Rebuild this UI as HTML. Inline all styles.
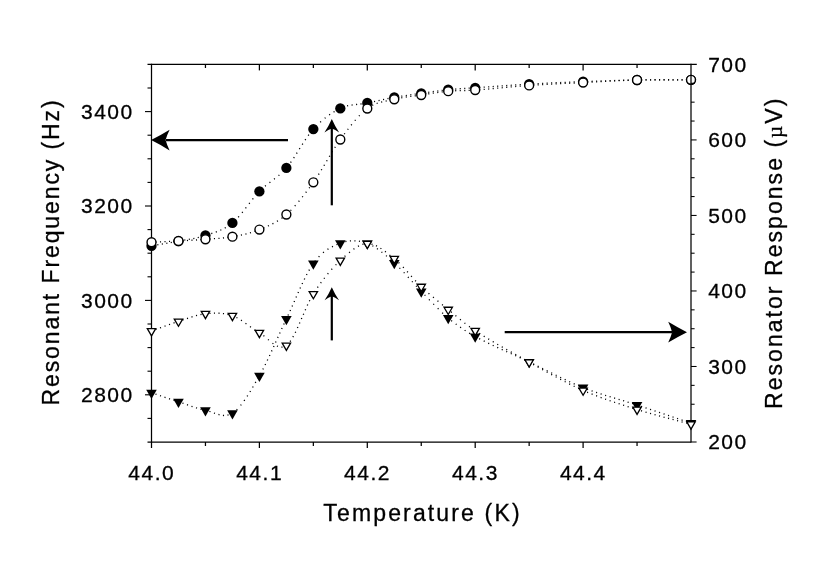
<!DOCTYPE html>
<html><head><meta charset="utf-8"><title>Resonant Frequency vs Temperature</title>
<style>html,body{margin:0;padding:0;background:#fff}body{width:830px;height:579px;position:relative;overflow:hidden;font-family:"Liberation Sans",sans-serif}</style>
</head><body>
<svg width="830" height="579" viewBox="0 0 830 579" style="position:absolute;left:0;top:0;filter:grayscale(1)">
<rect width="830" height="579" fill="#fff"/>
<g stroke="#000" stroke-width="1.25" fill="none">
<path d="M151.50 63.80 V448.00"/>
<path d="M147.50 442.00 H691.00"/>
<path d="M147.50 64.40 H696.80"/>
<path stroke-width="1.1" d="M147.50 418.40 H151.50"/>
<path stroke-width="1.1" d="M145.00 394.80 H151.50"/>
<path stroke-width="1.1" d="M147.50 371.20 H151.50"/>
<path stroke-width="1.1" d="M147.50 347.60 H151.50"/>
<path stroke-width="1.1" d="M147.50 324.00 H151.50"/>
<path stroke-width="1.1" d="M145.00 300.40 H151.50"/>
<path stroke-width="1.1" d="M147.50 276.80 H151.50"/>
<path stroke-width="1.1" d="M147.50 253.20 H151.50"/>
<path stroke-width="1.1" d="M147.50 229.60 H151.50"/>
<path stroke-width="1.1" d="M145.00 206.00 H151.50"/>
<path stroke-width="1.1" d="M147.50 182.40 H151.50"/>
<path stroke-width="1.1" d="M147.50 158.80 H151.50"/>
<path stroke-width="1.1" d="M147.50 135.20 H151.50"/>
<path stroke-width="1.1" d="M145.00 111.60 H151.50"/>
<path stroke-width="1.1" d="M147.50 88.00 H151.50"/>
<path d="M205.45 442.00 V446.00"/>
<path d="M205.45 64.40 V68.00"/>
<path d="M259.40 442.00 V448.00"/>
<path d="M259.40 64.40 V70.40"/>
<path d="M313.35 442.00 V446.00"/>
<path d="M313.35 64.40 V68.00"/>
<path d="M367.30 442.00 V448.00"/>
<path d="M367.30 64.40 V70.40"/>
<path d="M421.25 442.00 V446.00"/>
<path d="M421.25 64.40 V68.00"/>
<path d="M475.20 442.00 V448.00"/>
<path d="M475.20 64.40 V70.40"/>
<path d="M529.15 442.00 V446.00"/>
<path d="M529.15 64.40 V68.00"/>
<path d="M583.10 442.00 V448.00"/>
<path d="M583.10 64.40 V70.40"/>
<path d="M637.05 442.00 V446.00"/>
<path d="M637.05 64.40 V68.00"/>
</g>
<path d="M152.80 245.68 L153.88 245.49 M157.30 244.91 L158.39 244.72 M161.81 244.15 L162.90 243.97 M166.32 243.39 L167.41 243.20 M170.75 242.62 L171.83 242.43 M175.26 241.81 L176.34 241.61 M179.77 240.95 L180.85 240.76 M184.28 240.16 L185.36 239.98 M188.79 239.41 L189.87 239.22 M193.30 238.59 L194.38 238.38 M197.73 237.66 L198.80 237.41 M202.25 236.50 L203.31 236.19 M206.76 235.06 L207.81 234.71 M211.28 233.58 L212.32 233.24 M215.79 232.03 L216.82 231.65 M220.31 230.23 L221.32 229.78 M224.76 228.06 L225.72 227.52 M229.30 225.26 L230.20 224.62 M233.86 221.67 L234.67 220.92 M238.24 217.22 L238.97 216.40 M242.02 212.77 L242.71 211.91 M245.53 208.32 L246.21 207.45 M249.04 203.77 L249.71 202.90 M252.54 199.30 L253.23 198.44 M256.28 194.79 L257.01 193.96 M260.51 190.29 L261.30 189.53 M264.99 186.27 L265.84 185.57 M269.49 182.70 L270.36 182.03 M274.00 179.26 L274.87 178.58 M278.53 175.62 L279.36 174.90 M282.98 171.54 L283.76 170.76 M287.11 167.03 L287.81 166.18 M290.57 162.54 L291.20 161.64 M293.67 158.02 L294.28 157.11 M296.52 153.63 L297.11 152.70 M299.36 149.12 L299.95 148.19 M302.20 144.62 L302.79 143.69 M305.11 140.11 L305.72 139.19 M308.18 135.62 L308.83 134.73 M311.66 131.06 L312.37 130.21 M315.72 126.56 L316.49 125.77 M320.21 122.19 L321.02 121.45 M324.69 118.33 L325.56 117.65 M329.18 114.95 L330.09 114.33 M333.59 112.07 L334.53 111.50 M338.08 109.53 L339.06 109.02 M342.57 107.41 L343.60 107.03 M347.06 105.98 L348.13 105.72 M351.56 105.07 L352.64 104.91 M356.06 104.49 L357.16 104.37 M360.49 104.01 L361.58 103.89 M365.00 103.42 L366.09 103.23 M369.52 102.54 L370.59 102.32 M374.03 101.58 L375.10 101.35 M378.54 100.61 L379.61 100.37 M383.05 99.63 L384.12 99.41 M387.47 98.71 L388.55 98.49 M391.98 97.82 L393.06 97.62 M396.74 96.97 L397.82 96.78 M401.25 96.22 L402.33 96.05 M405.76 95.52 L406.84 95.36 M410.27 94.86 L411.36 94.70 M414.69 94.23 L415.78 94.07 M419.20 93.59 L420.29 93.44 M423.71 92.95 L424.80 92.79 M428.22 92.29 L429.31 92.13 M432.73 91.64 L433.82 91.49 M437.24 91.02 L438.33 90.87 M441.67 90.45 L442.76 90.31 M446.17 89.92 L447.27 89.80 M450.68 89.46 L451.78 89.36 M455.19 89.09 L456.29 89.00 M459.70 88.77 L460.80 88.70 M464.21 88.49 L465.31 88.42 M468.64 88.22 L469.74 88.15 M473.15 87.94 L474.25 87.87 M474.65 87.84 L475.75 87.76 M479.15 87.52 L480.25 87.45 M483.66 87.20 L484.75 87.13 M488.16 86.88 L489.26 86.80 M492.66 86.55 L493.76 86.48 M497.17 86.23 L498.26 86.15 M501.67 85.91 L502.77 85.83 M506.17 85.59 L507.27 85.51 M510.67 85.28 L511.77 85.20 M515.18 84.97 L516.27 84.90 M519.68 84.68 L520.78 84.61 M524.18 84.39 L525.28 84.33 M528.68 84.13 L529.78 84.06 M533.10 83.88 L534.20 83.82 M537.61 83.63 L538.70 83.57 M542.11 83.40 L543.21 83.34 M546.61 83.17 L547.71 83.12 M551.11 82.95 L552.21 82.90 M555.62 82.74 L556.72 82.69 M560.12 82.54 L561.22 82.49 M564.62 82.34 L565.72 82.30 M569.13 82.15 L570.22 82.11 M573.63 81.97 L574.73 81.93 M578.13 81.79 L579.23 81.75 M582.63 81.62 L583.73 81.58 M587.05 81.45 L588.15 81.41 M591.56 81.28 L592.66 81.24 M596.06 81.12 L597.16 81.08 M600.56 80.97 L601.66 80.93 M605.06 80.82 L606.16 80.78 M609.57 80.67 L610.67 80.64 M614.07 80.54 L615.17 80.50 M618.57 80.41 L619.67 80.38 M623.08 80.29 L624.17 80.27 M627.58 80.19 L628.68 80.16 M632.08 80.09 L633.18 80.07 M636.58 80.01 L637.68 79.99 M641.00 79.94 L642.10 79.93 M645.51 79.89 L646.61 79.88 M650.01 79.85 L651.11 79.85 M654.51 79.83 L655.61 79.83 M659.01 79.82 L660.11 79.82 M663.52 79.81 L664.62 79.81 M668.02 79.81 L669.12 79.81 M672.52 79.81 L673.62 79.82 M677.03 79.82 L678.13 79.82 M681.53 79.82 L682.63 79.82 M686.03 79.81 L687.13 79.81" stroke="#000" stroke-width="1.3" fill="none"/>
<circle cx="151.50" cy="245.90" r="5.15" fill="#000"/>
<circle cx="178.47" cy="241.20" r="5.15" fill="#000"/>
<circle cx="205.45" cy="235.50" r="5.15" fill="#000"/>
<circle cx="232.43" cy="222.90" r="5.15" fill="#000"/>
<circle cx="259.40" cy="191.40" r="5.15" fill="#000"/>
<circle cx="286.38" cy="167.90" r="5.15" fill="#000"/>
<circle cx="313.35" cy="129.10" r="5.15" fill="#000"/>
<circle cx="340.32" cy="108.40" r="5.15" fill="#000"/>
<circle cx="367.30" cy="103.00" r="5.15" fill="#000"/>
<circle cx="394.28" cy="97.40" r="5.15" fill="#000"/>
<circle cx="421.25" cy="93.30" r="5.15" fill="#000"/>
<circle cx="448.22" cy="89.70" r="5.15" fill="#000"/>
<circle cx="475.20" cy="87.80" r="5.15" fill="#000"/>
<circle cx="529.15" cy="84.10" r="5.15" fill="#000"/>
<circle cx="583.10" cy="81.60" r="5.15" fill="#000"/>
<circle cx="637.05" cy="80.00" r="5.15" fill="#000"/>
<circle cx="691.00" cy="79.80" r="5.15" fill="#000"/>
<path d="M150.95 242.22 L152.05 242.18 M155.46 242.03 L156.56 241.98 M159.97 241.84 L161.07 241.79 M164.48 241.65 L165.58 241.61 M168.99 241.46 L170.09 241.41 M173.50 241.25 L174.60 241.20 M178.01 241.03 L179.11 240.97 M182.44 240.79 L183.53 240.73 M186.95 240.53 L188.04 240.47 M191.46 240.27 L192.55 240.20 M195.97 239.98 L197.06 239.91 M200.48 239.68 L201.57 239.60 M204.99 239.34 L206.08 239.25 M209.41 239.01 L210.51 238.93 M213.92 238.70 L215.02 238.63 M218.43 238.38 L219.53 238.29 M222.94 237.98 L224.04 237.87 M227.45 237.47 L228.54 237.32 M231.97 236.78 L233.05 236.59 M236.39 235.97 L237.47 235.76 M240.91 235.07 L241.98 234.84 M245.42 234.05 L246.49 233.79 M249.94 232.86 L250.99 232.56 M254.45 231.45 L255.49 231.09 M258.97 229.77 L259.99 229.36 M263.40 227.95 L264.42 227.53 M267.92 226.01 L268.92 225.55 M272.44 223.85 L273.42 223.34 M276.97 221.35 L277.91 220.78 M281.50 218.37 L282.39 217.72 M286.05 214.79 L286.87 214.06 M290.50 210.62 L291.27 209.84 M294.78 206.09 L295.51 205.27 M298.63 201.62 L299.34 200.77 M302.24 197.18 L302.92 196.31 M305.75 192.63 L306.42 191.75 M309.10 188.15 L309.75 187.26 M312.36 183.67 L313.00 182.78 M315.55 179.14 L316.16 178.23 M318.49 174.64 L319.07 173.71 M321.25 170.19 L321.82 169.25 M323.93 165.74 L324.49 164.79 M326.60 161.23 L327.16 160.28 M329.27 156.72 L329.83 155.78 M332.02 152.15 L332.59 151.21 M334.77 147.73 L335.36 146.80 M337.76 143.15 L338.38 142.24 M340.92 138.69 L341.57 137.80 M344.26 134.16 L344.91 133.27 M347.59 129.72 L348.26 128.85 M351.09 125.24 L351.78 124.38 M354.83 120.69 L355.55 119.86 M358.90 116.14 L359.66 115.35 M363.30 111.81 L364.12 111.08 M367.77 108.15 L368.67 107.52 M372.24 105.41 L373.22 104.93 M376.63 103.51 L377.67 103.15 M381.13 102.14 L382.20 101.88 M385.63 101.12 L386.71 100.91 M390.15 100.22 L391.22 100.00 M396.74 98.72 L397.82 98.49 M401.25 97.83 L402.33 97.64 M405.76 97.10 L406.85 96.94 M410.27 96.47 L411.36 96.33 M414.69 95.90 L415.78 95.76 M419.20 95.30 L420.29 95.14 M423.71 94.62 L424.80 94.45 M428.22 93.92 L429.31 93.74 M432.73 93.21 L433.82 93.04 M437.24 92.53 L438.33 92.37 M441.67 91.92 L442.76 91.79 M446.17 91.40 L447.27 91.29 M450.68 91.00 L451.78 90.93 M455.19 90.76 L456.29 90.72 M459.70 90.63 L460.80 90.60 M464.21 90.53 L465.31 90.51 M468.64 90.42 L469.74 90.39 M473.15 90.23 L474.25 90.17 M474.65 90.14 L475.75 90.06 M479.15 89.80 L480.25 89.72 M483.66 89.44 L484.75 89.34 M488.16 89.04 L489.26 88.95 M492.66 88.63 L493.76 88.53 M497.17 88.21 L498.26 88.11 M501.67 87.78 L502.76 87.68 M506.17 87.36 L507.27 87.25 M510.67 86.93 L511.77 86.83 M515.18 86.52 L516.27 86.43 M519.68 86.13 L520.78 86.04 M524.18 85.77 L525.28 85.68 M528.68 85.43 L529.78 85.36 M533.10 85.13 L534.20 85.06 M537.61 84.85 L538.70 84.79 M542.11 84.59 L543.21 84.53 M546.61 84.35 L547.71 84.29 M551.11 84.11 L552.21 84.06 M555.62 83.89 L556.72 83.84 M560.12 83.68 L561.22 83.63 M564.62 83.47 L565.72 83.42 M569.13 83.26 L570.22 83.21 M573.63 83.06 L574.73 83.00 M578.13 82.84 L579.23 82.79 M582.63 82.62 L583.73 82.57 M587.05 82.40 L588.15 82.34 M591.56 82.16 L592.65 82.10 M596.06 81.91 L597.16 81.85 M600.56 81.66 L601.66 81.60 M605.06 81.41 L606.16 81.35 M609.57 81.16 L610.67 81.11 M614.07 80.93 L615.17 80.87 M618.57 80.70 L619.67 80.65 M623.08 80.50 L624.17 80.45 M627.58 80.31 L628.68 80.27 M632.08 80.15 L633.18 80.11 M636.58 80.01 L637.68 79.98 M641.00 79.91 L642.10 79.89 M645.51 79.83 L646.61 79.82 M650.01 79.79 L651.11 79.78 M654.51 79.76 L655.61 79.75 M659.01 79.75 L660.11 79.75 M663.52 79.75 L664.62 79.75 M668.02 79.76 L669.12 79.76 M672.52 79.78 L673.62 79.78 M677.03 79.79 L678.13 79.80 M681.53 79.80 L682.63 79.81 M686.03 79.81 L687.13 79.81" stroke="#000" stroke-width="1.3" fill="none"/>
<circle cx="151.50" cy="242.20" r="4.45" fill="#fff" stroke="#000" stroke-width="1.4"/>
<circle cx="178.47" cy="241.00" r="4.45" fill="#fff" stroke="#000" stroke-width="1.4"/>
<circle cx="205.45" cy="239.30" r="4.45" fill="#fff" stroke="#000" stroke-width="1.4"/>
<circle cx="232.43" cy="236.70" r="4.45" fill="#fff" stroke="#000" stroke-width="1.4"/>
<circle cx="259.40" cy="229.60" r="4.45" fill="#fff" stroke="#000" stroke-width="1.4"/>
<circle cx="286.38" cy="214.50" r="4.45" fill="#fff" stroke="#000" stroke-width="1.4"/>
<circle cx="313.35" cy="182.30" r="4.45" fill="#fff" stroke="#000" stroke-width="1.4"/>
<circle cx="340.32" cy="139.50" r="4.45" fill="#fff" stroke="#000" stroke-width="1.4"/>
<circle cx="367.30" cy="108.50" r="4.45" fill="#fff" stroke="#000" stroke-width="1.4"/>
<circle cx="394.28" cy="99.30" r="4.45" fill="#fff" stroke="#000" stroke-width="1.4"/>
<circle cx="421.25" cy="95.00" r="4.45" fill="#fff" stroke="#000" stroke-width="1.4"/>
<circle cx="448.22" cy="91.20" r="4.45" fill="#fff" stroke="#000" stroke-width="1.4"/>
<circle cx="475.20" cy="90.10" r="4.45" fill="#fff" stroke="#000" stroke-width="1.4"/>
<circle cx="529.15" cy="85.40" r="4.45" fill="#fff" stroke="#000" stroke-width="1.4"/>
<circle cx="583.10" cy="82.60" r="4.45" fill="#fff" stroke="#000" stroke-width="1.4"/>
<circle cx="637.05" cy="80.00" r="4.45" fill="#fff" stroke="#000" stroke-width="1.4"/>
<circle cx="691.00" cy="79.80" r="4.45" fill="#fff" stroke="#000" stroke-width="1.4"/>
<g stroke="#000" stroke-width="1.25" fill="none">
<path d="M691.00 63.80 V442.60"/>
<path stroke-width="1.05" d="M691.00 442.00 H696.60"/>
<path stroke-width="1.05" d="M691.00 423.12 H694.60"/>
<path stroke-width="1.05" d="M691.00 404.24 H694.60"/>
<path stroke-width="1.05" d="M691.00 385.36 H694.60"/>
<path stroke-width="1.05" d="M691.00 366.48 H696.60"/>
<path stroke-width="1.05" d="M691.00 347.60 H694.60"/>
<path stroke-width="1.05" d="M691.00 328.72 H694.60"/>
<path stroke-width="1.05" d="M691.00 309.84 H694.60"/>
<path stroke-width="1.05" d="M691.00 290.96 H696.60"/>
<path stroke-width="1.05" d="M691.00 272.08 H694.60"/>
<path stroke-width="1.05" d="M691.00 253.20 H694.60"/>
<path stroke-width="1.05" d="M691.00 234.32 H694.60"/>
<path stroke-width="1.05" d="M691.00 215.44 H696.60"/>
<path stroke-width="1.05" d="M691.00 196.56 H694.60"/>
<path stroke-width="1.05" d="M691.00 177.68 H694.60"/>
<path stroke-width="1.05" d="M691.00 158.80 H694.60"/>
<path stroke-width="1.05" d="M691.00 139.92 H696.60"/>
<path stroke-width="1.05" d="M691.00 121.04 H694.60"/>
<path stroke-width="1.05" d="M691.00 102.16 H694.60"/>
<path stroke-width="1.05" d="M691.00 83.28 H694.60"/>
</g>
<path d="M150.98 392.63 L152.02 392.97 M155.49 394.14 L156.53 394.49 M160.00 395.65 L161.04 396.00 M164.51 397.17 L165.55 397.52 M169.02 398.68 L170.06 399.03 M173.53 400.18 L174.57 400.52 M178.04 401.66 L179.08 402.00 M182.46 403.14 L183.50 403.49 M186.98 404.71 L188.01 405.07 M191.48 406.27 L192.53 406.62 M195.99 407.75 L197.04 408.08 M200.49 409.09 L201.55 409.37 M205.00 410.20 L206.07 410.43 M209.44 411.40 L210.48 411.76 M213.95 413.00 L214.99 413.37 M218.45 414.49 L219.51 414.78 M222.94 415.40 L224.04 415.48 M227.46 415.23 L228.53 414.98 M232.05 413.45 L232.97 412.85 M236.54 409.88 L237.33 409.11 M240.60 405.43 L241.29 404.57 M244.05 400.88 L244.68 399.98 M247.08 396.43 L247.67 395.50 M249.93 391.91 L250.50 390.98 M252.61 387.46 L253.17 386.52 M255.28 382.88 L255.83 381.93 M257.79 378.51 L258.34 377.56 M260.39 373.95 L260.92 372.99 M262.82 369.42 L263.33 368.44 M265.09 364.97 L265.57 363.99 M267.26 360.51 L267.74 359.52 M269.44 355.91 L269.90 354.92 M271.53 351.39 L271.99 350.39 M273.54 346.98 L273.99 345.98 M275.54 342.54 L275.99 341.54 M277.63 337.89 L278.08 336.89 M279.63 333.45 L280.09 332.44 M281.64 329.04 L282.09 328.04 M283.72 324.52 L284.19 323.52 M285.89 319.92 L286.36 318.93 M287.98 315.51 L288.44 314.51 M290.07 310.95 L290.53 309.95 M292.08 306.47 L292.53 305.46 M294.09 301.93 L294.53 300.93 M296.01 297.57 L296.45 296.57 M298.01 293.05 L298.46 292.04 M300.01 288.59 L300.47 287.59 M302.09 284.06 L302.56 283.07 M304.26 279.52 L304.74 278.54 M306.50 275.06 L307.01 274.08 M308.90 270.60 L309.45 269.64 M311.63 266.05 L312.23 265.12 M314.85 261.47 L315.53 260.60 M318.65 256.96 L319.41 256.17 M323.03 252.77 L323.88 252.07 M327.50 249.42 L328.43 248.83 M331.98 246.80 L332.97 246.31 M336.48 244.71 L337.49 244.29 M340.89 242.99 L341.93 242.64 M345.38 241.69 L346.46 241.46 M349.88 240.97 L350.98 240.88 M354.39 240.82 L355.49 240.87 M358.91 241.23 L359.99 241.40 M363.43 242.17 L364.49 242.47 M367.88 243.61 L368.89 244.03 M372.42 245.76 L373.37 246.31 M376.95 248.58 L377.86 249.21 M381.48 251.92 L382.35 252.60 M386.01 255.63 L386.84 256.34 M390.52 259.56 L391.35 260.29 M394.96 263.51 L395.77 264.25 M399.48 267.87 L400.26 268.65 M403.76 272.33 L404.50 273.13 M407.94 276.90 L408.67 277.72 M411.95 281.36 L412.68 282.18 M416.03 285.87 L416.78 286.68 M420.20 290.32 L420.96 291.11 M424.63 294.88 L425.39 295.67 M428.97 299.39 L429.73 300.18 M433.31 303.87 L434.08 304.66 M437.73 308.33 L438.51 309.10 M442.23 312.67 L443.03 313.42 M446.72 316.72 L447.56 317.44 M451.22 320.45 L452.08 321.14 M455.72 323.94 L456.60 324.60 M460.13 327.15 L461.04 327.78 M464.63 330.19 L465.56 330.79 M469.13 333.02 L470.08 333.59 M473.63 335.64 L474.60 336.17 M474.72 336.24 L475.68 336.76 M479.21 338.64 L480.19 339.14 M483.71 340.94 L484.70 341.43 M488.21 343.16 L489.20 343.64 M492.71 345.31 L493.71 345.78 M497.21 347.40 L498.21 347.86 M501.72 349.46 L502.72 349.91 M506.22 351.48 L507.22 351.93 M510.72 353.50 L511.72 353.95 M515.22 355.51 L516.23 355.96 M519.73 357.54 L520.73 358.00 M524.23 359.60 L525.23 360.06 M528.74 361.70 L529.73 362.18 M533.16 363.82 L534.15 364.30 M537.66 366.03 L538.65 366.51 M542.17 368.26 L543.15 368.75 M546.67 370.52 L547.65 371.01 M551.17 372.78 L552.16 373.27 M555.67 375.03 L556.66 375.52 M560.18 377.25 L561.16 377.73 M564.68 379.43 L565.67 379.90 M569.18 381.55 L570.17 382.01 M573.68 383.60 L574.68 384.05 M578.17 385.57 L579.19 385.99 M582.67 387.43 L583.69 387.84 M587.09 389.15 L588.12 389.53 M591.59 390.79 L592.62 391.16 M596.09 392.35 L597.13 392.70 M600.59 393.83 L601.63 394.17 M605.09 395.25 L606.14 395.58 M609.59 396.63 L610.64 396.95 M614.09 397.98 L615.15 398.29 M618.60 399.32 L619.65 399.63 M623.10 400.66 L624.15 400.97 M627.60 402.02 L628.65 402.34 M632.11 403.41 L633.16 403.74 M636.61 404.86 L637.66 405.20 M641.03 406.31 L642.07 406.66 M645.53 407.81 L646.58 408.15 M650.04 409.31 L651.08 409.66 M654.54 410.82 L655.58 411.17 M659.04 412.33 L660.09 412.68 M663.55 413.84 L664.59 414.20 M668.05 415.36 L669.09 415.72 M672.55 416.88 L673.59 417.24 M677.05 418.40 L678.10 418.76 M681.56 419.92 L682.60 420.27 M686.06 421.44 L687.10 421.79" stroke="#000" stroke-width="1.3" fill="none"/>
<path d="M146.20 389.80 L156.80 389.80 L151.50 399.10 Z" fill="#000"/>
<path d="M173.17 398.80 L183.77 398.80 L178.47 408.10 Z" fill="#000"/>
<path d="M200.15 407.30 L210.75 407.30 L205.45 416.60 Z" fill="#000"/>
<path d="M227.13 410.20 L237.73 410.20 L232.43 419.50 Z" fill="#000"/>
<path d="M254.10 372.70 L264.70 372.70 L259.40 382.00 Z" fill="#000"/>
<path d="M281.07 315.90 L291.68 315.90 L286.38 325.20 Z" fill="#000"/>
<path d="M308.05 260.50 L318.65 260.50 L313.35 269.80 Z" fill="#000"/>
<path d="M335.02 240.20 L345.62 240.20 L340.32 249.50 Z" fill="#000"/>
<path d="M362.00 240.40 L372.60 240.40 L367.30 249.70 Z" fill="#000"/>
<path d="M388.98 259.90 L399.58 259.90 L394.28 269.20 Z" fill="#000"/>
<path d="M415.95 288.40 L426.55 288.40 L421.25 297.70 Z" fill="#000"/>
<path d="M442.92 315.00 L453.52 315.00 L448.22 324.30 Z" fill="#000"/>
<path d="M469.90 333.50 L480.50 333.50 L475.20 342.80 Z" fill="#000"/>
<path d="M523.85 358.90 L534.45 358.90 L529.15 368.20 Z" fill="#000"/>
<path d="M577.80 384.60 L588.40 384.60 L583.10 393.90 Z" fill="#000"/>
<path d="M631.75 402.00 L642.35 402.00 L637.05 411.30 Z" fill="#000"/>
<path d="M685.70 420.10 L696.30 420.10 L691.00 429.40 Z" fill="#000"/>
<path d="M150.98 331.18 L152.02 330.82 M155.49 329.56 L156.53 329.18 M160.00 327.91 L161.04 327.53 M164.51 326.25 L165.55 325.87 M169.02 324.62 L170.06 324.25 M173.53 323.04 L174.57 322.68 M178.03 321.54 L179.08 321.21 M182.46 320.08 L183.51 319.73 M186.97 318.53 L188.02 318.18 M191.48 317.03 L192.53 316.70 M195.98 315.68 L197.05 315.40 M200.48 314.59 L201.56 314.37 M204.99 313.85 L206.08 313.73 M209.41 313.43 L210.51 313.35 M213.92 313.18 L215.02 313.15 M218.43 313.18 L219.53 313.23 M222.94 313.53 L224.03 313.67 M227.46 314.28 L228.53 314.54 M231.99 315.55 L233.03 315.91 M236.45 317.47 L237.42 317.99 M240.99 320.15 L241.90 320.76 M245.51 323.28 L246.40 323.93 M250.02 326.58 L250.91 327.23 M254.52 329.77 L255.43 330.38 M259.00 332.58 L259.96 333.11 M263.48 335.58 L264.34 336.27 M268.00 339.40 L268.83 340.13 M272.49 343.15 L273.37 343.80 M276.94 346.00 L277.94 346.44 M281.40 347.18 L282.50 347.12 M286.02 345.77 L286.90 345.11 M290.07 341.57 L290.70 340.67 M292.87 337.14 L293.41 336.18 M295.24 332.66 L295.72 331.67 M297.42 328.06 L297.88 327.06 M299.43 323.56 L299.87 322.56 M301.36 319.12 L301.79 318.11 M303.28 314.64 L303.71 313.63 M305.19 310.21 L305.64 309.20 M307.27 305.55 L307.73 304.56 M309.35 301.18 L309.84 300.19 M311.74 296.60 L312.29 295.65 M314.47 292.15 L315.07 291.23 M317.47 287.64 L318.09 286.74 M320.63 283.14 L321.27 282.25 M323.95 278.68 L324.63 277.81 M327.61 274.08 L328.32 273.24 M331.44 269.62 L332.17 268.80 M335.60 265.14 L336.37 264.35 M340.09 260.72 L340.89 259.97 M344.59 256.56 L345.41 255.83 M349.09 252.64 L349.94 251.95 M353.49 249.24 L354.39 248.61 M357.96 246.42 L358.94 245.92 M362.43 244.48 L363.48 244.17 M366.92 243.61 L368.02 243.58 M371.45 244.04 L372.51 244.32 M375.99 245.67 L376.98 246.16 M380.45 248.19 L381.37 248.79 M384.99 251.38 L385.86 252.05 M389.50 254.94 L390.36 255.64 M394.01 258.59 L394.87 259.28 M398.56 262.55 L399.35 263.31 M403.00 267.03 L403.76 267.83 M407.10 271.48 L407.84 272.30 M411.11 275.95 L411.85 276.77 M415.20 280.44 L415.95 281.24 M419.60 285.01 L420.39 285.78 M424.02 289.17 L424.83 289.91 M428.52 293.19 L429.35 293.92 M433.02 297.07 L433.86 297.78 M437.53 300.85 L438.38 301.55 M442.04 304.55 L442.89 305.25 M446.55 308.23 L447.40 308.92 M450.97 311.86 L451.82 312.56 M455.48 315.61 L456.33 316.31 M459.99 319.32 L460.84 320.02 M464.49 322.94 L465.36 323.61 M468.99 326.38 L469.88 327.03 M473.49 329.57 L474.40 330.18 M474.74 330.40 L475.66 331.00 M479.24 333.29 L480.17 333.88 M483.74 336.11 L484.67 336.68 M488.24 338.86 L489.18 339.43 M492.74 341.55 L493.68 342.11 M497.24 344.19 L498.19 344.75 M501.74 346.79 L502.69 347.34 M506.24 349.36 L507.20 349.90 M510.74 351.89 L511.70 352.43 M515.24 354.40 L516.21 354.94 M519.75 356.90 L520.71 357.43 M524.25 359.39 L525.21 359.92 M528.75 361.88 L529.71 362.41 M533.17 364.33 L534.13 364.87 M537.68 366.84 L538.64 367.38 M542.18 369.35 L543.14 369.89 M546.68 371.85 L547.64 372.39 M551.18 374.33 L552.15 374.86 M555.68 376.78 L556.65 377.30 M560.18 379.19 L561.16 379.70 M564.68 381.54 L565.66 382.04 M569.18 383.83 L570.17 384.32 M573.68 386.05 L574.67 386.52 M578.18 388.18 L579.18 388.64 M582.68 390.22 L583.69 390.66 M587.10 392.12 L588.11 392.54 M591.59 393.97 L592.62 394.38 M596.09 395.73 L597.12 396.13 M600.59 397.43 L601.63 397.81 M605.10 399.06 L606.13 399.42 M609.60 400.63 L610.64 400.99 M614.10 402.15 L615.14 402.50 M618.60 403.64 L619.65 403.98 M623.10 405.10 L624.15 405.43 M627.60 406.53 L628.65 406.86 M632.11 407.95 L633.16 408.28 M636.61 409.36 L637.66 409.69 M641.03 410.73 L642.08 411.04 M645.53 412.07 L646.58 412.37 M650.03 413.36 L651.09 413.66 M654.53 414.61 L655.59 414.90 M659.03 415.84 L660.10 416.12 M663.53 417.04 L664.60 417.32 M668.04 418.22 L669.10 418.50 M672.54 419.40 L673.60 419.68 M677.04 420.58 L678.11 420.86 M681.55 421.76 L682.61 422.04 M686.05 422.96 L687.11 423.24" stroke="#000" stroke-width="1.3" fill="none"/>
<path d="M147.30 328.65 L155.70 328.65 L151.50 335.90 Z" fill="#fff" stroke="#000" stroke-width="1.3" stroke-linejoin="miter"/>
<path d="M174.27 319.05 L182.67 319.05 L178.47 326.30 Z" fill="#fff" stroke="#000" stroke-width="1.3" stroke-linejoin="miter"/>
<path d="M201.25 311.45 L209.65 311.45 L205.45 318.70 Z" fill="#fff" stroke="#000" stroke-width="1.3" stroke-linejoin="miter"/>
<path d="M228.23 313.35 L236.63 313.35 L232.43 320.60 Z" fill="#fff" stroke="#000" stroke-width="1.3" stroke-linejoin="miter"/>
<path d="M255.20 330.45 L263.60 330.45 L259.40 337.70 Z" fill="#fff" stroke="#000" stroke-width="1.3" stroke-linejoin="miter"/>
<path d="M282.18 343.15 L290.57 343.15 L286.38 350.40 Z" fill="#fff" stroke="#000" stroke-width="1.3" stroke-linejoin="miter"/>
<path d="M309.15 291.55 L317.55 291.55 L313.35 298.80 Z" fill="#fff" stroke="#000" stroke-width="1.3" stroke-linejoin="miter"/>
<path d="M336.12 258.15 L344.52 258.15 L340.32 265.40 Z" fill="#fff" stroke="#000" stroke-width="1.3" stroke-linejoin="miter"/>
<path d="M363.10 241.25 L371.50 241.25 L367.30 248.50 Z" fill="#fff" stroke="#000" stroke-width="1.3" stroke-linejoin="miter"/>
<path d="M390.08 256.45 L398.48 256.45 L394.28 263.70 Z" fill="#fff" stroke="#000" stroke-width="1.3" stroke-linejoin="miter"/>
<path d="M417.05 284.25 L425.45 284.25 L421.25 291.50 Z" fill="#fff" stroke="#000" stroke-width="1.3" stroke-linejoin="miter"/>
<path d="M444.02 307.25 L452.42 307.25 L448.22 314.50 Z" fill="#fff" stroke="#000" stroke-width="1.3" stroke-linejoin="miter"/>
<path d="M471.00 328.35 L479.40 328.35 L475.20 335.60 Z" fill="#fff" stroke="#000" stroke-width="1.3" stroke-linejoin="miter"/>
<path d="M524.95 359.75 L533.35 359.75 L529.15 367.00 Z" fill="#fff" stroke="#000" stroke-width="1.3" stroke-linejoin="miter"/>
<path d="M578.90 388.05 L587.30 388.05 L583.10 395.30 Z" fill="#fff" stroke="#000" stroke-width="1.3" stroke-linejoin="miter"/>
<path d="M632.85 407.15 L641.25 407.15 L637.05 414.40 Z" fill="#fff" stroke="#000" stroke-width="1.3" stroke-linejoin="miter"/>
<path d="M686.80 421.95 L695.20 421.95 L691.00 429.20 Z" fill="#fff" stroke="#000" stroke-width="1.3" stroke-linejoin="miter"/>
<g stroke="#000" stroke-width="2.2" fill="none">
<path d="M166 140.1 H288"/>
<path d="M504.7 332.2 H672"/>
<path d="M331.8 205.3 V128"/>
<path d="M331.8 340.4 V296"/>
</g>
<path d="M151.10 140.10 Q160.72 135.26 169.60 129.80 Q166.80 135.47 165.60 140.10 Q166.80 144.73 169.60 150.40 Q160.72 144.94 151.10 140.10 Z" fill="#000"/>
<path d="M687.00 332.20 Q677.22 337.06 668.20 342.55 Q670.93 336.86 672.10 332.20 Q670.93 327.54 668.20 321.85 Q677.22 327.34 687.00 332.20 Z" fill="#000"/>
<path d="M331.80 119.00 Q334.81 125.97 339.15 132.40 Q335.11 129.60 331.80 128.40 Q328.49 129.60 324.45 132.40 Q328.79 125.97 331.80 119.00 Z" fill="#000"/>
<path d="M331.80 287.20 Q334.75 293.96 339.00 300.20 Q335.04 297.40 331.80 296.20 Q328.56 297.40 324.60 300.20 Q328.85 293.96 331.80 287.20 Z" fill="#000"/>
<text x="81" y="402.10" font-family="Liberation Sans, sans-serif" font-size="21" letter-spacing="1.5" fill="#000" stroke="#000" stroke-width="0.3">2800</text>
<text x="81" y="307.70" font-family="Liberation Sans, sans-serif" font-size="21" letter-spacing="1.5" fill="#000" stroke="#000" stroke-width="0.3">3000</text>
<text x="81" y="213.30" font-family="Liberation Sans, sans-serif" font-size="21" letter-spacing="1.5" fill="#000" stroke="#000" stroke-width="0.3">3200</text>
<text x="81" y="118.90" font-family="Liberation Sans, sans-serif" font-size="21" letter-spacing="1.5" fill="#000" stroke="#000" stroke-width="0.3">3400</text>
<text x="708.2" y="449.30" font-family="Liberation Sans, sans-serif" font-size="21" letter-spacing="1.5" fill="#000" stroke="#000" stroke-width="0.3">200</text>
<text x="708.2" y="373.78" font-family="Liberation Sans, sans-serif" font-size="21" letter-spacing="1.5" fill="#000" stroke="#000" stroke-width="0.3">300</text>
<text x="708.2" y="298.26" font-family="Liberation Sans, sans-serif" font-size="21" letter-spacing="1.5" fill="#000" stroke="#000" stroke-width="0.3">400</text>
<text x="708.2" y="222.74" font-family="Liberation Sans, sans-serif" font-size="21" letter-spacing="1.5" fill="#000" stroke="#000" stroke-width="0.3">500</text>
<text x="708.2" y="147.22" font-family="Liberation Sans, sans-serif" font-size="21" letter-spacing="1.5" fill="#000" stroke="#000" stroke-width="0.3">600</text>
<text x="708.2" y="71.70" font-family="Liberation Sans, sans-serif" font-size="21" letter-spacing="1.5" fill="#000" stroke="#000" stroke-width="0.3">700</text>
<text x="128.30" y="479.8" font-family="Liberation Sans, sans-serif" font-size="21" letter-spacing="1.5" fill="#000" stroke="#000" stroke-width="0.3">44.0</text>
<text x="236.20" y="479.8" font-family="Liberation Sans, sans-serif" font-size="21" letter-spacing="1.5" fill="#000" stroke="#000" stroke-width="0.3">44.1</text>
<text x="344.10" y="479.8" font-family="Liberation Sans, sans-serif" font-size="21" letter-spacing="1.5" fill="#000" stroke="#000" stroke-width="0.3">44.2</text>
<text x="452.00" y="479.8" font-family="Liberation Sans, sans-serif" font-size="21" letter-spacing="1.5" fill="#000" stroke="#000" stroke-width="0.3">44.3</text>
<text x="559.90" y="479.8" font-family="Liberation Sans, sans-serif" font-size="21" letter-spacing="1.5" fill="#000" stroke="#000" stroke-width="0.3">44.4</text>
<text x="323.3" y="521" letter-spacing="2.15" font-family="Liberation Sans, sans-serif" font-size="23" fill="#000" stroke="#000" stroke-width="0.3">Temperature (K)</text>
<text transform="translate(59.3 405.5) rotate(-90)" letter-spacing="1.9" font-family="Liberation Sans, sans-serif" font-size="23" fill="#000" stroke="#000" stroke-width="0.3">Resonant Frequency (Hz)</text>
<text transform="translate(782.3 409) rotate(-90)" letter-spacing="2.05" font-family="Liberation Sans, sans-serif" font-size="23" fill="#000" stroke="#000" stroke-width="0.3">Resonator Response (<tspan font-family="Liberation Serif, serif" font-size="21">µ</tspan>V)</text>
</svg>
</body></html>
